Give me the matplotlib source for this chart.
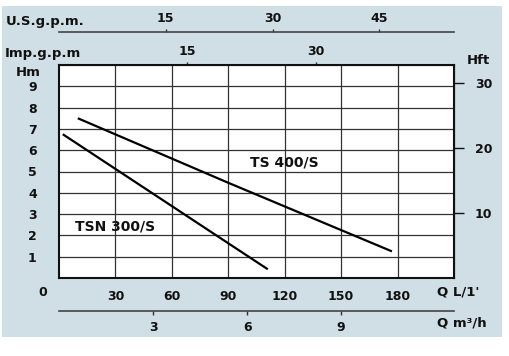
import matplotlib
matplotlib.use('Agg')
import matplotlib.pyplot as plt
from matplotlib.patches import Rectangle

# data (Q in L/min, H in m)
ts400_q = [10, 90, 177]
ts400_h = [7.5, 4.47, 1.25]
tsn300_q = [2, 90, 111]
tsn300_h = [6.75, 1.63, 0.41]

q_ticks = [30, 60, 90, 120, 150, 180]
h_ticks = [1, 2, 3, 4, 5, 6, 7, 8, 9]
us_ticks = [15, 30, 45]
imp_ticks = [15, 30]
m3h_ticks = [3, 6, 9]
ft_ticks = [10, 20, 30]

W, H = 510, 356
BG = '#d0dee6'
FONT = dict(family='DejaVu Sans', fontweight='bold', fontsize=9, color='#111111')
CAP = {**FONT, 'fontsize': 9.5}

def px(x, y):
	return x / W, 1 - y / H

fig = plt.figure(figsize=(W / 100, H / 100), dpi=100)
fig.patch.set_facecolor('white')
fig.patches.append(Rectangle(px(2, 337), 500 / W, 331 / H, transform=fig.transFigure,
	facecolor=BG, edgecolor='none', zorder=-10))

l, r, t, b = 59, 454, 65, 278
ax = fig.add_axes([l / W, 1 - b / H, (r - l) / W, (b - t) / H])
ax.set_facecolor('white')
ax.set_xlim(0, 210)
ax.set_ylim(0, 10)

ax.plot(ts400_q, ts400_h, color='black', lw=1.6, solid_capstyle='butt')
ax.plot(tsn300_q, tsn300_h, color='black', lw=1.6, solid_capstyle='butt')

ax.set_xticks(q_ticks)
ax.set_xticklabels([str(v) for v in q_ticks])
ax.set_yticks(h_ticks)
ax.set_yticklabels([str(v) for v in h_ticks])
ax.grid(True, color='#333333', lw=0.9)
ax.tick_params(axis='both', length=0)
ax.tick_params(axis='x', pad=9)
ax.tick_params(axis='y', pad=16)
for lab in ax.get_xticklabels() + ax.get_yticklabels():
	lab.set(**FONT)
for s in ax.spines.values():
	s.set_linewidth(1.5)
	s.set_color('#111111')

ax.text(120, 5.4, 'TS 400/S', ha='center', va='center', **{**FONT, 'fontsize': 10})
ax.text(30, 2.4, 'TSN 300/S', ha='center', va='center', **{**FONT, 'fontsize': 10})

# extra scales
imp = ax.secondary_xaxis('top', functions=(lambda x: x / 4.54609, lambda x: x * 4.54609))
imp.set_xticks(imp_ticks)
imp.tick_params(length=2, width=1, pad=3, color='#333333')

us = ax.secondary_xaxis(1 + 33 / 213, functions=(lambda x: x / 3.78541, lambda x: x * 3.78541))
us.set_xticks(us_ticks)
us.tick_params(length=2, width=1, pad=3, color='#333333')
us.spines['top'].set_linewidth(1.2)
us.spines['top'].set_color('#444444')

m3h = ax.secondary_xaxis(-33 / 213, functions=(lambda x: x * 0.06, lambda x: x / 0.06))
m3h.set_xticks(m3h_ticks)
m3h.tick_params(length=3, width=1, pad=4, color='#333333')
m3h.spines['bottom'].set_linewidth(1.2)
m3h.spines['bottom'].set_color('#444444')

ft = ax.secondary_yaxis('right', functions=(lambda x: x / 0.3048, lambda x: x * 0.3048))
ft.set_yticks(ft_ticks)
ft.tick_params(length=7, width=1, pad=8, color='#111111')

for sec in (imp, us, m3h, ft):
	for lab in sec.get_xticklabels() + sec.get_yticklabels():
		lab.set(**FONT)

# axis captions
fig.text(*px(6, 21), 'U.S.g.p.m.', ha='left', va='center', **CAP)
fig.text(*px(5, 53), 'Imp.g.p.m', ha='left', va='center', **CAP)
fig.text(*px(41, 72), 'Hm', ha='right', va='center', **CAP)
fig.text(*px(467, 61), 'Hft', ha='left', va='center', **CAP)
fig.text(*px(43, 292), '0', ha='center', va='center', **FONT)
fig.text(*px(437, 292), "Q L/1'", ha='left', va='center', **CAP)
fig.text(*px(437, 323), 'Q m³/h', ha='left', va='center', **CAP)

fig.savefig('out.png', dpi=100)
